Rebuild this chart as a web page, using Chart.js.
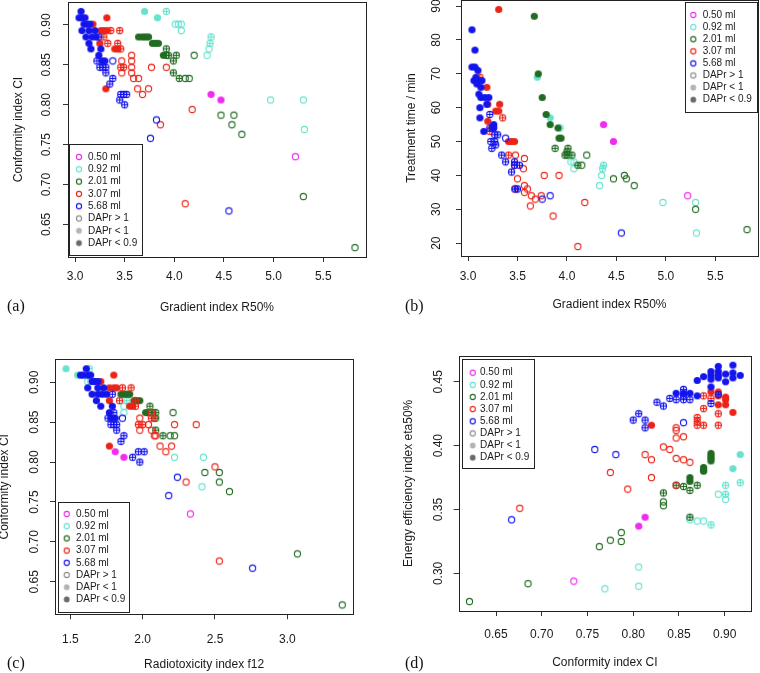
<!DOCTYPE html>
<html>
<head>
<meta charset="utf-8">
<title>DAPr plan quality indices</title>
<script src="https://cdn.jsdelivr.net/npm/chart.js@4.4.1/dist/chart.umd.min.js"></script>
<style>
  html, body { margin: 0; padding: 0; background: #fff; }
  body { width: 760px; height: 673px; position: relative; overflow: hidden; }
  .panel { position: absolute; }
  .tag { position: absolute; font-family: "Liberation Serif", "DejaVu Serif", serif; font-size: 16px; line-height: 18px; color: #111; }
</style>
</head>
<body>
<div class="panel" style="left:0;top:0"><canvas id="ca" width="380" height="330"></canvas></div>
<div class="panel" style="left:380px;top:0"><canvas id="cb" width="380" height="330"></canvas></div>
<div class="panel" style="left:-6px;top:330px"><canvas id="cc" width="386" height="343"></canvas></div>
<div class="panel" style="left:380px;top:330px"><canvas id="cd" width="380" height="343"></canvas></div>
<div class="tag" style="left:7px;top:297px">(a)</div>
<div class="tag" style="left:405px;top:297px">(b)</div>
<div class="tag" style="left:7px;top:654px">(c)</div>
<div class="tag" style="left:405px;top:654px">(d)</div>
<script>
// ===== Categories =====
const volumes = ["0.50 ml", "0.92 ml", "2.01 ml", "3.07 ml", "5.68 ml"];
const daprClasses = ["DAPr > 1", "DAPr < 1", "DAPr < 0.9"];   // class 0, 1, 2 in the data below

// ===== Panel (a): gradient index R50% vs conformity index CI  [x, y, DAPr class] =====
const aMag = [[4.37,0.813,2],[4.47,0.806,2],[5.22,0.735,0]];
const aCyan = [[3.70,0.917,2],[3.83,0.909,2],[3.92,0.917,1],[4.01,0.901,0],[4.04,0.901,0],[4.07,0.901,0],[4.07,0.893,0],
  [4.37,0.885,1],[4.36,0.877,1],[4.35,0.870,0],[4.33,0.862,0],[4.97,0.806,0],[5.30,0.806,0],[5.31,0.769,0]];
const aGreen = [[3.64,0.885,2],[3.68,0.885,2],[3.71,0.885,2],[3.74,0.885,2],[3.78,0.877,2],[3.81,0.877,2],[3.84,0.877,2],
  [3.89,0.862,2],[3.92,0.870,1],[3.92,0.862,1],[3.94,0.862,1],[4.02,0.862,1],[3.99,0.855,1],[3.99,0.840,1],[4.05,0.833,1],
  [4.20,0.862,0],[4.11,0.833,0],[4.15,0.833,0],[4.47,0.787,0],[4.60,0.787,0],[4.58,0.775,0],[4.68,0.763,0],[5.30,0.685,0],[5.82,0.621,0]];
const aRed = [[3.32,0.909,2],[3.18,0.901,2],[3.26,0.893,2],[3.29,0.893,2],[3.32,0.893,2],[3.25,0.877,2],[3.40,0.870,2],[3.43,0.870,2],[3.31,0.820,2],
  [3.36,0.893,1],[3.45,0.893,1],[3.29,0.885,1],[3.33,0.877,1],[3.43,0.877,1],[3.46,0.870,1],[3.46,0.847,1],[3.49,0.847,1],
  [3.57,0.862,0],[3.47,0.855,0],[3.57,0.855,0],[3.57,0.847,0],[3.77,0.847,0],[3.92,0.847,0],[3.47,0.840,0],[3.57,0.840,0],
  [3.59,0.833,0],[3.64,0.833,0],[3.63,0.820,0],[3.74,0.820,0],[3.68,0.813,0],[4.18,0.794,0],[3.86,0.775,0],[4.11,0.676,0]];
const aBlue = [[3.06,0.917,2],[3.04,0.909,2],[3.07,0.909,2],[3.10,0.909,2],[3.09,0.901,2],[3.12,0.901,2],[3.15,0.901,2],
  [3.07,0.893,2],[3.14,0.893,2],[3.20,0.893,2],[3.11,0.885,2],[3.17,0.885,2],[3.21,0.885,2],[3.14,0.877,2],[3.16,0.870,2],
  [3.26,0.870,2],[3.24,0.862,2],[3.27,0.855,2],[3.30,0.855,2],
  [3.24,0.885,1],[3.22,0.855,1],[3.25,0.847,1],[3.28,0.847,1],[3.31,0.847,1],[3.31,0.840,1],[3.38,0.833,1],[3.35,0.826,1],
  [3.46,0.813,1],[3.49,0.813,1],[3.52,0.813,1],[3.45,0.806,1],[3.50,0.800,1],
  [3.38,0.855,0],[3.82,0.781,0],[3.76,0.758,0],[4.55,0.667,0]];

// ===== Panel (b): gradient index R50% vs treatment time (min) =====
const bMag = [[4.37,55,2],[4.47,50,2],[5.22,34,0]];
const bCyan = [[3.70,69,2],[3.83,57,2],[3.93,54,1],[4.01,46,0],[4.04,44,0],[4.07,42,0],[4.07,44,0],
  [4.37,43,1],[4.36,42,1],[4.35,40,0],[4.33,37,0],[4.97,32,0],[5.30,32,0],[5.31,23,0]];
const bGreen = [[3.67,87,2],[3.71,70,2],[3.75,63,2],[3.79,58,2],[3.83,55,2],[3.91,54,2],[3.92,51,2],[3.94,51,2],
  [3.88,48,1],[4.01,48,1],[4.00,47,1],[3.98,46,1],[4.00,46,1],[4.05,46,1],[4.11,43,1],[4.15,43,0],
  [4.20,46,0],[4.47,39,0],[4.58,40,0],[4.60,39,0],[4.68,37,0],[5.30,30,0],[5.82,24,0]];
const bRed = [[3.31,89,2],[3.19,66,2],[3.20,61,2],[3.32,61,2],[3.28,59,2],[3.31,59,2],[3.20,56,2],[3.41,50,2],[3.44,50,2],[3.47,50,2],
  [3.12,69,1],[3.35,57,1],[3.24,54,1],[3.22,53,1],[3.41,46,1],[3.47,43,1],
  [3.48,46,0],[3.57,45,0],[3.56,42,0],[3.50,39,0],[3.57,37,0],[3.60,36,0],[3.47,36,0],[3.57,35,0],[3.64,34,0],
  [3.74,34,0],[3.68,33,0],[3.63,31,0],[3.77,40,0],[3.92,40,0],[4.18,32,0],[3.86,28,0],[4.11,19,0]];
const bBlue = [[3.04,83,2],[3.07,77,2],[3.04,72,2],[3.07,72,2],[3.10,71,2],[3.06,68,2],[3.08,69,2],[3.10,68,2],[3.14,68,2],
  [3.09,67,2],[3.13,66,2],[3.11,64,2],[3.13,63,2],[3.17,63,2],[3.21,63,2],[3.19,61,2],[3.12,60,2],[3.12,57,2],[3.16,53,2],
  [3.26,55,2],[3.26,54,2],
  [3.22,58,1],[3.22,54,1],[3.25,54,1],[3.27,52,1],[3.30,52,1],[3.23,50,1],[3.27,50,1],[3.28,49,1],[3.24,48,1],[3.34,46,1],
  [3.38,44,1],[3.47,44,1],[3.52,43,1],[3.47,43,1],[3.44,41,1],[3.48,36,1],[3.50,36,1],
  [3.38,51,0],[3.75,33,0],[3.83,34,0],[4.55,23,0]];

// ===== Panel (c): radiotoxicity index f12 vs conformity index CI =====
const cMag = [[1.81,0.813,2],[1.87,0.806,2],[2.33,0.735,0]];
const cCyan = [[1.47,0.917,2],[1.55,0.909,2],[1.63,0.917,1],[1.62,0.901,0],[1.64,0.901,0],[1.66,0.901,0],[1.70,0.893,0],
  [1.90,0.885,1],[1.89,0.877,1],[1.87,0.870,0],[1.87,0.862,0],[2.22,0.806,0],[2.42,0.806,0],[2.41,0.769,0]];
const cGreen = [[1.85,0.885,2],[1.87,0.885,2],[1.89,0.885,2],[1.91,0.885,2],[1.94,0.877,2],[1.96,0.877,2],[1.98,0.877,2],
  [2.02,0.862,2],[2.05,0.870,1],[2.04,0.862,1],[2.07,0.862,1],[2.09,0.862,1],[2.09,0.855,1],[2.09,0.840,1],[2.14,0.833,1],
  [2.21,0.862,0],[2.19,0.833,0],[2.22,0.833,0],[2.43,0.787,0],[2.53,0.787,0],[2.53,0.775,0],[2.60,0.763,0],[3.07,0.685,0],[3.38,0.621,0]];
const cRed = [[1.80,0.909,2],[1.71,0.901,2],[1.77,0.893,2],[1.80,0.893,2],[1.82,0.893,2],[1.77,0.877,2],[1.91,0.870,2],[1.93,0.870,2],[1.77,0.820,2],
  [1.86,0.893,1],[1.92,0.893,1],[1.84,0.877,1],[1.95,0.877,1],[1.95,0.870,1],[2.06,0.855,1],[1.97,0.847,1],[2.00,0.847,1],
  [2.06,0.862,0],[1.98,0.855,0],[2.08,0.855,0],[2.04,0.847,0],[2.22,0.847,0],[2.37,0.847,0],[1.98,0.840,0],[2.06,0.840,0],
  [2.08,0.833,0],[2.09,0.833,0],[2.12,0.820,0],[2.20,0.820,0],[2.16,0.813,0],[2.50,0.794,0],[2.30,0.775,0],[2.53,0.676,0]];
const cBlue = [[1.61,0.917,2],[1.57,0.909,2],[1.59,0.909,2],[1.62,0.909,2],[1.64,0.909,2],[1.65,0.901,2],[1.67,0.901,2],
  [1.69,0.901,2],[1.62,0.893,2],[1.69,0.893,2],[1.73,0.893,2],[1.65,0.885,2],[1.69,0.885,2],[1.72,0.885,2],[1.75,0.885,2],
  [1.68,0.877,2],[1.71,0.870,2],[1.79,0.870,2],[1.77,0.862,2],[1.78,0.855,2],[1.81,0.855,2],
  [1.79,0.885,1],[1.76,0.855,1],[1.80,0.862,1],[1.78,0.847,1],[1.80,0.847,1],[1.82,0.847,1],[1.82,0.840,1],[1.87,0.833,1],
  [1.85,0.826,1],[1.97,0.813,1],[2.01,0.813,1],[1.93,0.806,1],[1.98,0.800,1],
  [1.86,0.855,0],[2.24,0.781,0],[2.18,0.758,0],[2.76,0.667,0]];

// ===== Panel (d): conformity index CI vs energy efficiency index eta50% =====
const dMag = [[0.806,0.337,2],[0.813,0.344,2],[0.735,0.294,0]];
const dCyan = [[0.917,0.393,2],[0.909,0.382,2],[0.917,0.371,1],[0.901,0.369,1],[0.893,0.362,0],[0.901,0.362,1],[0.901,0.358,0],
  [0.862,0.342,0],[0.870,0.341,0],[0.877,0.341,0],[0.885,0.338,1],[0.806,0.305,0],[0.806,0.290,0],[0.769,0.288,0]];
const dGreen = [[0.885,0.394,2],[0.885,0.392,2],[0.885,0.390,2],[0.885,0.388,2],[0.877,0.383,2],[0.877,0.381,2],[0.877,0.380,2],
  [0.862,0.375,2],[0.862,0.372,2],[0.847,0.369,1],[0.855,0.368,1],[0.862,0.365,1],[0.870,0.369,1],[0.833,0.363,1],[0.862,0.344,1],
  [0.833,0.356,0],[0.833,0.353,0],[0.787,0.332,0],[0.787,0.325,0],[0.775,0.326,0],[0.763,0.321,0],[0.685,0.292,0],[0.621,0.278,0]];
const dRed = [[0.909,0.426,2],[0.820,0.416,2],[0.893,0.432,2],[0.901,0.432,2],[0.901,0.436,2],[0.901,0.438,2],[0.893,0.439,2],[0.893,0.442,2],[0.885,0.442,2],
  [0.870,0.416,1],[0.877,0.416,1],[0.893,0.416,1],[0.870,0.422,1],[0.870,0.419,1],[0.877,0.429,1],[0.893,0.425,1],[0.877,0.439,1],[0.885,0.437,1],
  [0.847,0.414,0],[0.847,0.412,0],[0.847,0.406,0],[0.855,0.407,0],[0.833,0.399,0],[0.840,0.397,0],[0.847,0.390,0],[0.855,0.389,0],
  [0.862,0.387,0],[0.813,0.393,0],[0.820,0.389,0],[0.775,0.379,0],[0.820,0.375,0],[0.794,0.366,0],[0.847,0.369,0],[0.676,0.351,0]];
const dBlue = [[0.870,0.451,2],[0.877,0.454,2],[0.885,0.458,2],[0.885,0.455,2],[0.885,0.452,2],[0.893,0.462,2],[0.893,0.458,2],
  [0.893,0.455,2],[0.893,0.453,2],[0.901,0.456,2],[0.901,0.450,2],[0.909,0.463,2],[0.909,0.457,2],[0.909,0.453,2],[0.917,0.455,2],
  [0.847,0.441,2],[0.855,0.441,2],[0.862,0.441,2],[0.870,0.439,2],[0.885,0.446,2],
  [0.855,0.444,1],[0.847,0.436,1],[0.855,0.436,1],[0.862,0.436,1],[0.840,0.437,1],[0.826,0.434,1],[0.833,0.431,1],[0.885,0.433,1],
  [0.893,0.440,1],[0.800,0.420,1],[0.806,0.425,1],[0.813,0.420,1],[0.813,0.414,1],[0.855,0.439,1],
  [0.855,0.418,0],[0.758,0.397,0],[0.781,0.393,0],[0.667,0.342,0]];

// ===== Tick labels =====
const r50Ticks = [3.0, 3.5, 4.0, 4.5, 5.0, 5.5];
const ciTicks = [0.65, 0.70, 0.75, 0.80, 0.85, 0.90];
const timeTicks = [20, 30, 40, 50, 60, 70, 80, 90];
const f12Ticks = [1.5, 2.0, 2.5, 3.0];
const etaTicks = [0.30, 0.35, 0.40, 0.45];

// ===== Styles =====
const volColors = ["#f02cf0", "#66e2cf", "#226b22", "#ec2418", "#1414ec"];
const font = '"Liberation Sans", Arial, sans-serif';
const ink = "#1a1a1a";

// draw an R-like plotting symbol into a small canvas (open circle, circled plus, filled)
function mark(col, cls, r) {
  const s = Math.ceil(r * 2 + 4), c = document.createElement("canvas");
  c.width = c.height = s;
  const g = c.getContext("2d"), m = s / 2;
  g.strokeStyle = col; g.fillStyle = col; g.lineWidth = 1.1;
  g.beginPath(); g.arc(m, m, cls === 2 ? r + 0.5 : r, 0, Math.PI * 2);
  if (cls === 2) g.fill(); else g.stroke();
  if (cls === 1) {
    g.beginPath();
    g.moveTo(m - r, m); g.lineTo(m + r, m);
    g.moveTo(m, m - r); g.lineTo(m, m + r);
    g.stroke();
  }
  return c;
}
const marks = volColors.map(col => [0, 1, 2].map(k => mark(col, k, 3.1)));

// legend entries: volumes as open circles, then the three DAPr symbols in grey
const legendItems = volumes.map((v, i) => ({ label: v, sym: mark(volColors[i], 0, 2.6) }))
  .concat([
    { label: daprClasses[0], sym: mark("#8c8c8c", 0, 2.6) },
    { label: daprClasses[1], sym: mark("#b4b4b4", 2, 2.4) },
    { label: daprClasses[2], sym: mark("#6a6a6a", 2, 2.4) }
  ]);

// ===== Box around the plot + R style legend =====
const framePlugin = {
  id: "frame",
  afterDraw(chart, args, opt) {
    const { ctx, chartArea: a } = chart;
    ctx.save();
    ctx.strokeStyle = "#222"; ctx.lineWidth = 1;
    ctx.strokeRect(Math.round(a.left) + 0.5, Math.round(a.top) + 0.5, Math.round(a.right - a.left), Math.round(a.bottom - a.top));
    const L = opt.box;
    ctx.fillStyle = "#fff"; ctx.fillRect(L.x, L.y, L.w, L.h);
    ctx.strokeRect(Math.round(L.x) + 0.5, Math.round(L.y) + 0.5, Math.round(L.w), Math.round(L.h));
    ctx.font = "10px " + font;
    ctx.textBaseline = "middle"; ctx.fillStyle = ink;
    legendItems.forEach((it, i) => {
      const y = L.row0 + i * L.gap;
      ctx.drawImage(it.sym, L.symX - it.sym.width / 2, y - it.sym.height / 2);
      ctx.fillText(it.label, L.textX, y);
    });
    ctx.restore();
  }
};

// keep the plot box exactly where the layout puts it (no extra room for edge labels)
function noEdgePad(s) {
  s.paddingTop = 0; s.paddingBottom = 0; s.paddingLeft = 0; s.paddingRight = 0;
}

// ===== Build one scatter panel =====
function panel(id, groups, o) {
  const cv = document.getElementById(id), W = cv.width, H = cv.height, A = o.area;
  const datasets = groups.map((pts, g) => ({
    label: volumes[g],
    data: pts.map(p => ({ x: p[0], y: p[1], c: p[2] })),
    pointStyle: ctx => marks[g][ctx.raw ? ctx.raw.c : 0],
    pointRadius: 4,
    borderColor: volColors[g],
    backgroundColor: volColors[g]
  })).reverse();   // first dataset is drawn on top: blue over red over green ...

  new Chart(cv, {
    type: "scatter",
    data: { datasets },
    options: {
      responsive: false,
      animation: false,
      layout: { autoPadding: false, padding: { left: 0, top: A.top, right: W - A.right, bottom: 0 } },
      plugins: { legend: { display: false }, tooltip: { enabled: false }, frame: { box: o.legend } },
      scales: {
        x: {
          type: "linear", min: o.x.min, max: o.x.max,
          afterFit: s => { s.height = H - A.bottom; noEdgePad(s); },
          afterBuildTicks: s => { s.ticks = o.x.ticks.map(v => ({ value: v })); },
          ticks: { padding: o.x.pad, color: ink, font: { family: font, size: 12 }, callback: v => v.toFixed(o.x.dec) },
          grid: { drawOnChartArea: false, drawTicks: true, tickLength: 5, color: "#333" },
          border: { display: false },
          title: { display: true, text: o.x.title, color: ink, font: { family: font, size: 12 }, padding: { top: 0, bottom: o.x.tpad } }
        },
        y: {
          type: "linear", min: o.y.min, max: o.y.max,
          afterFit: s => { s.width = A.left; noEdgePad(s); },
          afterBuildTicks: s => { s.ticks = o.y.ticks.map(v => ({ value: v })); },
          ticks: { minRotation: 90, maxRotation: 90, crossAlign: "center", padding: o.y.pad, color: ink,
                   font: { family: font, size: 12 }, callback: v => v.toFixed(o.y.dec) },
          grid: { drawOnChartArea: false, drawTicks: true, tickLength: 5, color: "#333" },
          border: { display: false },
          title: { display: true, text: o.y.title, color: ink, font: { family: font, size: 12 }, padding: { top: o.y.tpad, bottom: 0 } }
        }
      }
    },
    plugins: [framePlugin]
  });
}

panel("ca", [aMag, aCyan, aGreen, aRed, aBlue], {
  area: { left: 68, top: 2, right: 366, bottom: 257 },
  x: { min: 2.929, max: 5.931, ticks: r50Ticks, dec: 1, pad: 7.8, title: "Gradient index R50%", tpad: 14.8 },
  y: { min: 0.6092, max: 0.9288, ticks: ciTicks, dec: 2, pad: 4.3, title: "Conformity index CI", tpad: 11.8 },
  legend: { x: 69, y: 144, w: 73, h: 111, row0: 157, gap: 12.3, symX: 79, textX: 88 }
});

panel("cb", [bMag, bCyan, bGreen, bRed, bBlue], {
  area: { left: 81, top: 0, right: 378, bottom: 256 },
  x: { min: 2.929, max: 5.931, ticks: r50Ticks, dec: 1, pad: 8.8, title: "Gradient index R50%", tpad: 17.8 },
  y: { min: 16.2, max: 91.8, ticks: timeTicks, dec: 0, pad: 12.3, title: "Treatment time / min", tpad: 24.8 },
  legend: { x: 305, y: 2, w: 72, h: 110, row0: 15, gap: 12.1, symX: 313.3, textX: 322.7 }
});

panel("cc", [cMag, cCyan, cGreen, cRed, cBlue], {
  area: { left: 61, top: 29.3, right: 359.3, bottom: 284.3 },
  x: { min: 1.3936, max: 3.4564, ticks: f12Ticks, dec: 1, pad: 13.5, title: "Radiotoxicity index f12", tpad: 1.5 },
  y: { min: 0.6092, max: 0.9288, ticks: ciTicks, dec: 2, pad: 3.3, title: "Conformity index CI", tpad: 3.8 },
  legend: { x: 64, y: 172, w: 71, h: 110, row0: 184, gap: 12.2, symX: 72.7, textX: 82 }
});

panel("cd", [dMag, dCyan, dGreen, dRed, dBlue], {
  area: { left: 78.7, top: 25.7, right: 371, bottom: 281 },
  x: { min: 0.6092, max: 0.9288, ticks: ciTicks, dec: 2, pad: 11.8, title: "Conformity index CI", tpad: 3.5 },
  y: { min: 0.2706, max: 0.4704, ticks: etaTicks, dec: 2, pad: 3.7, title: "Energy efficiency index eta50%", tpad: 21.1 },
  legend: { x: 81.7, y: 29, w: 71.6, h: 108.7, row0: 42.7, gap: 12.14, symX: 92.7, textX: 100 }
});
</script>
</body>
</html>
